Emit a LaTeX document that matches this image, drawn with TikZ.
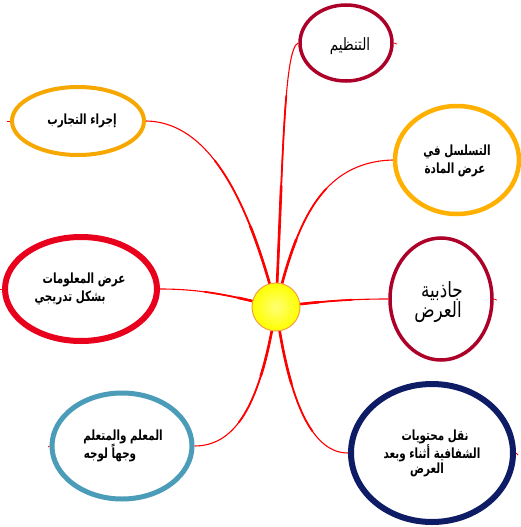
\documentclass[tikz,border=0pt]{standalone}
\usepackage{fontspec}
\usetikzlibrary{shapes.geometric,calc,backgrounds}
\TeXXeTstate=1
\newfontfamily\arabicb[Script=Arabic,FakeStretch=0.74]{DejaVu Sans}
\newfontfamily\arabicr[Script=Arabic,FakeStretch=0.8]{DejaVu Sans}
\definecolor{crimsonc}{HTML}{AC0028}
\definecolor{orangec}{HTML}{F7A800}
\definecolor{ambc}{HTML}{FFB000}
\definecolor{redc}{HTML}{E8001C}
\definecolor{bluec}{HTML}{4B9CB8}
\definecolor{navyc}{HTML}{0E1C66}
\definecolor{linkc}{HTML}{FF0000}
\definecolor{sunrim}{HTML}{F0A040}
\tikzset{
  bub/.style={ellipse, draw, line width=4pt, inner sep=0pt, minimum width=#1},
  link/.style={draw=linkc, line width=1.1pt},
  stub/.style={draw=linkc, line width=0.8pt},
  txt/.style={font=\arabicb\bfseries\fontsize{14}{16}\selectfont, inner sep=0pt},
  bigtxt/.style={font=\arabicr\fontsize{#1}{#1}\selectfont, inner sep=0pt},
}
% thicker first part of a Bezier curve (de Casteljau split at #5)
\newcommand\tprpart[6]{%
  \path (#1) coordinate (tA) (#2) coordinate (tB) (#3) coordinate (tC) (#4) coordinate (tD);
  \path ($(tA)!#5!(tB)$) coordinate (tAB) ($(tB)!#5!(tC)$) coordinate (tBC) ($(tC)!#5!(tD)$) coordinate (tCD);
  \path ($(tAB)!#5!(tBC)$) coordinate (tABC) ($(tBC)!#5!(tCD)$) coordinate (tBCD);
  \path ($(tABC)!#5!(tBCD)$) coordinate (tM);
  \draw[draw=linkc, line width=#6, line cap=round] (tA) .. controls (tAB) and (tABC) .. (tM);
}
\newcommand\tpr[4]{%
  \draw[link] (#1) .. controls (#2) and (#3) .. (#4);
  \tprpart{#1}{#2}{#3}{#4}{0.6}{1.8pt}
  \tprpart{#1}{#2}{#3}{#4}{0.3}{2.6pt}
}
\begin{document}
\begin{tikzpicture}[x=1pt,y=-1pt]
\useasboundingbox (0,0) rectangle (520,527);
% bubbles
\node[bub=92pt, minimum height=76pt, draw=crimsonc, line width=3.5pt] (org) at (346,43) {};
\node[bub=132pt, minimum height=68pt, draw=orangec] (exp) at (78,121) {};
\node[bub=124pt, minimum height=108pt, draw=ambc, line width=4.5pt] (seq) at (457,160) {};
\node[bub=102pt, minimum height=122pt, draw=crimsonc, line width=3.5pt] (attr) at (441,299) {};
\node[bub=152pt, minimum height=104pt, draw=redc, line width=6pt] (info) at (81,289) {};
\node[bub=140pt, minimum height=106pt, draw=bluec, line width=5pt] (teach) at (122,446) {};
\node[bub=162pt, minimum height=138pt, draw=navyc, line width=6pt] (trans) at (432,453) {};
% sun
\node[circle, minimum size=48pt, inner sep=0pt, draw=sunrim, line width=1pt,
      inner color=yellow!55!white, outer color=yellow] (sun) at (276,307) {};
% connectors
\begin{pgfonlayer}{background}
\tpr{sun.center}{283,160}{284,48}{org.west}
\tpr{sun.center}{252,215}{215,122}{exp.east}
\tpr{sun.center}{296,225}{320,162}{seq.west}
\tpr{sun.center}{330,300}{360,299}{attr.west}
\tpr{sun.center}{230,295}{200,289}{info.east}
\tpr{sun.center}{262,395}{240,446}{teach.east}
\tpr{sun.center}{290,410}{315,453}{trans.west}
\end{pgfonlayer}
% small stubs
\coordinate (s1) at (397,44);
\coordinate (s2) at (7,121);
\coordinate (s3) at (0,289);
\coordinate (s4) at (48,447);
\coordinate (s5) at (518,455);
\coordinate (s6) at (497,300);
\draw[stub] (org.east) -- (s1);
\draw[stub] (exp.west) -- (s2);
\draw[stub] (info.west) -- (s3);
\draw[stub] (teach.west) -- (s4);
\draw[stub] (trans.east) -- (s5);
\draw[stub] (attr.east) -- (s6);
% texts
\node[bigtxt=17] (torg) at (350,46) {\beginR التنظيم\endR};
\node[txt] (texp) at (82,121) {\beginR إجراء التجارب\endR};
\node[txt] (tseq1) at (457,152) {\beginR التسلسل في\endR};
\node[txt] (tseq2) at (455,170) {\beginR عرض المادة\endR};
\node[bigtxt=21] (tattr1) at (442,291) {\beginR جاذبية\endR};
\node[bigtxt=21] (tattr2) at (438,312) {\beginR العرض\endR};
\node[txt] (tinfo1) at (84,280) {\beginR عرض المعلومات\endR};
\node[txt] (tinfo2) at (70,298) {\beginR بشكل تدريجي\endR};
\node[txt] (tteach1) at (123,437) {\beginR المعلم والمتعلم\endR};
\node[txt] (tteach2) at (110,453) {\beginR وجهاً لوجه\endR};
\node[txt] (ttr1) at (435,437) {\beginR نقل محتويات\endR};
\node[txt] (ttr2) at (432,453) {\beginR الشفافية أثناء وبعد\endR};
\node[txt] (ttr3) at (427,470) {\beginR العرض\endR};
\end{tikzpicture}
\end{document}
